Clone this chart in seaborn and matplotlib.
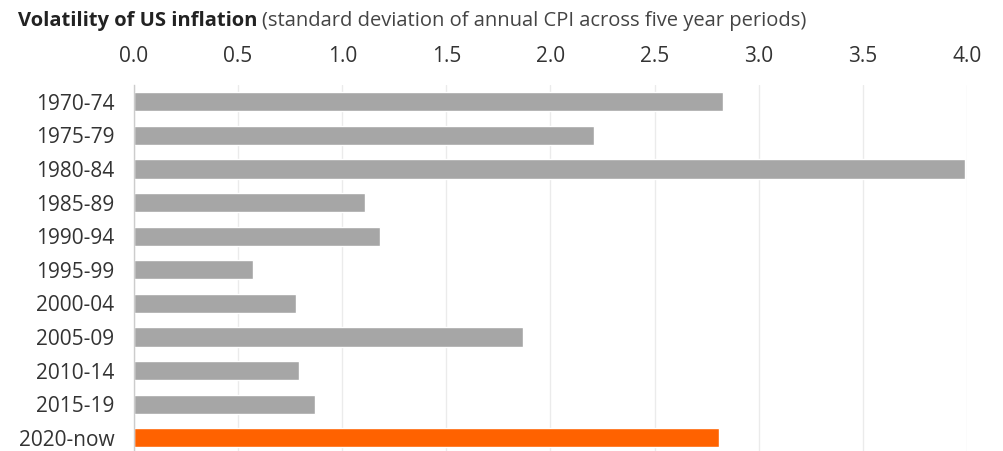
import matplotlib
matplotlib.use("Agg")
import matplotlib.pyplot as plt
import seaborn as sns
import pandas as pd

periods = ["1970-74", "1975-79", "1980-84", "1985-89", "1990-94", "1995-99",
           "2000-04", "2005-09", "2010-14", "2015-19", "2020-now"]
volatility = [2.83, 2.21, 3.99, 1.11, 1.18, 0.57, 0.78, 1.87, 0.79, 0.87, 2.81]
highlight = ["past"] * 10 + ["now"]
xticks = [0.0, 0.5, 1.0, 1.5, 2.0, 2.5, 3.0, 3.5, 4.0]

sns.set_theme(style="white")
plt.rcParams["font.family"] = ["Open Sans", "DejaVu Sans"]

df = pd.DataFrame({"period": periods, "vol": volatility, "group": highlight})

fig = plt.figure(figsize=(10.04, 4.51), dpi=100)
W, H = 1004, 451
ax = fig.add_axes([134 / W, 0, (967 - 134) / W, (451 - 85) / H])

sns.barplot(data=df, x="vol", y="period", hue="group",
            palette={"past": "#a6a6a6", "now": "#ff6200"},
            orient="h", width=0.57, legend=False, ax=ax, saturation=1)

ax.set_xlim(0, 4.0)
ax.set_ylim(10.39, -0.5)
ax.set_xticks(xticks)
ax.set_xticklabels([f"{t:.1f}" for t in xticks])
ax.xaxis.tick_top()
ax.tick_params(axis="x", length=0, pad=13, labelsize=15, colors="#333333")
ax.tick_params(axis="y", which="major", length=0, pad=14, labelsize=15, colors="#333333")
ax.set_yticks([i - 0.5 for i in range(11)], minor=True)
ax.tick_params(axis="y", which="minor", length=4, color="#cccccc", width=1)
ax.grid(axis="x", color="#ebebeb", linewidth=1)
ax.set_axisbelow(True)
ax.set_xlabel("")
ax.set_ylabel("")
for s in ["top", "right", "bottom"]:
    ax.spines[s].set_visible(False)
ax.spines["left"].set_color("#cccccc")
ax.spines["left"].set_linewidth(1)

t1 = fig.text(18 / W, 1 - 21 / H, "Volatility of US inflation", fontsize=14.5,
              fontweight="bold", color="#222222", va="center", ha="left")
fig.canvas.draw()
bb = t1.get_window_extent()
fig.text((bb.x1 + 5) / W, 1 - 21 / H,
         "(standard deviation of annual CPI across five year periods)",
         fontsize=14.5, color="#444444", va="center", ha="left")

fig.savefig("out.png", dpi=100)
